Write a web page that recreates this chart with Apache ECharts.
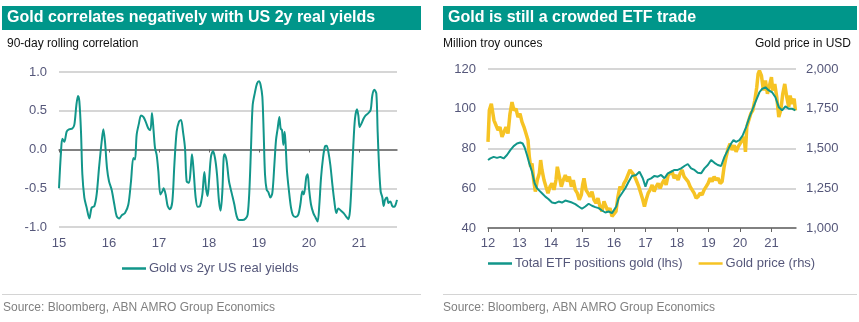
<!DOCTYPE html>
<html>
<head>
<meta charset="utf-8">
<script src="https://cdn.jsdelivr.net/npm/echarts@6/dist/echarts.min.js"></script>
<style>
  html, body { margin: 0; padding: 0; background: #fff; }
  #chart { width: 859px; height: 322px; }
</style>
</head>
<body>
<div id="chart"></div>
<script>
// Left panel: 90-day rolling correlation, gold vs 2yr US real yields (x = year, 15 = 2015)
const corrYears = [
  15.000, 15.040, 15.067, 15.107, 15.153, 15.200, 15.267, 15.307, 15.347, 15.380,
  15.407, 15.440, 15.467, 15.507, 15.553, 15.607, 15.653, 15.707, 15.753, 15.800,
  15.853, 15.887, 15.920, 15.960, 16.000, 16.053, 16.107, 16.153, 16.207, 16.253,
  16.320, 16.387, 16.440, 16.487, 16.520, 16.553, 16.600, 16.640, 16.687, 16.733,
  16.787, 16.827, 16.860, 16.893, 16.920, 16.953, 16.987, 17.027, 17.067, 17.093,
  17.133, 17.173, 17.220, 17.267, 17.307, 17.353, 17.400, 17.440, 17.480, 17.520,
  17.553, 17.600, 17.640, 17.660, 17.693, 17.733, 17.773, 17.820, 17.867, 17.907,
  17.940, 17.973, 18.000, 18.040, 18.080, 18.120, 18.160, 18.200, 18.233, 18.267,
  18.293, 18.313, 18.353, 18.400, 18.453, 18.507, 18.553, 18.600, 18.667, 18.733,
  18.773, 18.807, 18.840, 18.873, 18.920, 18.960, 19.000, 19.033, 19.067, 19.093,
  19.120, 19.153, 19.187, 19.227, 19.267, 19.307, 19.340, 19.373, 19.407, 19.433,
  19.460, 19.487, 19.513, 19.533, 19.560, 19.600, 19.640, 19.680, 19.733, 19.787,
  19.827, 19.867, 19.893, 19.920, 19.947, 19.973, 20.000, 20.040, 20.087, 20.133,
  20.173, 20.207, 20.240, 20.280, 20.320, 20.353, 20.387, 20.427, 20.467, 20.507,
  20.547, 20.587, 20.640, 20.693, 20.747, 20.787, 20.820, 20.853, 20.887, 20.920,
  20.960, 20.987, 21.013, 21.053, 21.093, 21.133, 21.187, 21.233, 21.267, 21.307,
  21.347, 21.373, 21.400, 21.433, 21.467, 21.493, 21.520, 21.560, 21.587, 21.627,
  21.667, 21.707, 21.733, 21.760
];
const corrValues = [
  -0.50, -0.03, 0.14, 0.10, 0.23, 0.26, 0.27, 0.32, 0.57, 0.69,
  0.62, 0.23, -0.32, -0.62, -0.75, -0.89, -0.75, -0.73, -0.58, -0.24,
  0.10, 0.26, 0.10, -0.24, -0.41, -0.52, -0.71, -0.86, -0.89, -0.85,
  -0.82, -0.71, -0.41, -0.11, -0.13, 0.19, 0.34, 0.44, 0.42, 0.36,
  0.27, 0.25, 0.47, 0.23, 0.02, -0.07, -0.28, -0.58, -0.54, -0.50,
  -0.58, -0.73, -0.77, -0.67, -0.20, 0.23, 0.36, 0.38, 0.23, 0.02,
  -0.41, -0.43, -0.20, -0.06, -0.28, -0.62, -0.74, -0.73, -0.58, -0.29,
  -0.50, -0.60, -0.41, -0.09, -0.02, -0.11, -0.32, -0.67, -0.79, -0.54,
  -0.11, -0.06, -0.15, -0.41, -0.56, -0.71, -0.86, -0.91, -0.91, -0.89,
  -0.84, -0.54, 0.02, 0.57, 0.74, 0.85, 0.88, 0.83, 0.68, 0.23,
  -0.32, -0.52, -0.55, -0.62, -0.56, -0.20, 0.12, 0.27, 0.42, 0.27,
  0.25, 0.06, 0.23, 0.06, -0.28, -0.54, -0.75, -0.85, -0.87, -0.84,
  -0.71, -0.54, -0.58, -0.50, -0.35, -0.32, -0.50, -0.71, -0.82, -0.88,
  -0.93, -0.71, -0.37, -0.11, 0.04, 0.05, -0.03, -0.20, -0.45, -0.67,
  -0.82, -0.76, -0.79, -0.82, -0.87, -0.90, -0.79, -0.41, 0.06, 0.40,
  0.52, 0.44, 0.29, 0.34, 0.40, 0.44, 0.47, 0.51, 0.70, 0.77,
  0.72, 0.23, -0.20, -0.54, -0.62, -0.73, -0.65, -0.62, -0.69, -0.67,
  -0.73, -0.74, -0.71, -0.65
];

// Right panel: total gold ETF holdings (million troy ounces, x = year, 12 = 2012)
const etfYears = [
  12.000, 12.074, 12.180, 12.286, 12.392, 12.497, 12.603, 12.709, 12.815, 12.921,
  13.026, 13.101, 13.164, 13.238, 13.312, 13.397, 13.481, 13.556, 13.630, 13.714,
  13.820, 13.926, 14.032, 14.138, 14.243, 14.349, 14.455, 14.561, 14.667, 14.772,
  14.878, 14.984, 15.090, 15.196, 15.302, 15.407, 15.513, 15.619, 15.725, 15.831,
  15.937, 16.000, 16.074, 16.148, 16.254, 16.360, 16.466, 16.571, 16.704, 16.810,
  16.862, 16.915, 17.000, 17.074, 17.180, 17.286, 17.392, 17.497, 17.603, 17.709,
  17.815, 17.921, 18.026, 18.132, 18.238, 18.344, 18.450, 18.556, 18.661, 18.767,
  18.873, 18.979, 19.085, 19.190, 19.296, 19.402, 19.508, 19.614, 19.720, 19.794,
  19.878, 19.984, 20.090, 20.196, 20.302, 20.407, 20.513, 20.619, 20.704, 20.810,
  20.915, 21.021, 21.127, 21.233, 21.339, 21.444, 21.550, 21.656, 21.762
];
const etfValues = [
  74.2, 75.0, 75.8, 75.3, 75.8, 75.0, 76.7, 79.2, 81.2, 82.5,
  83.0, 82.5, 80.5, 76.7, 72.5, 68.3, 62.5, 60.0, 58.8, 57.5,
  55.8, 54.5, 52.8, 52.5, 53.3, 52.8, 53.8, 53.3, 52.8, 52.0,
  50.8, 49.7, 50.8, 52.2, 51.2, 50.5, 50.0, 48.8, 47.8, 48.3,
  47.5, 48.3, 50.8, 55.0, 57.5, 60.0, 63.3, 66.2, 66.7, 68.3,
  69.2, 65.0, 60.8, 64.2, 65.0, 66.2, 65.8, 66.7, 65.0, 67.5,
  68.3, 69.2, 69.2, 70.0, 71.2, 72.2, 70.0, 69.2, 67.8, 67.5,
  70.0, 71.7, 74.2, 72.8, 71.7, 71.2, 75.8, 79.2, 82.5, 84.2,
  83.3, 84.2, 86.7, 90.8, 95.8, 100.0, 104.2, 108.3, 110.0, 110.8,
  109.2, 108.3, 105.8, 100.8, 99.2, 101.2, 100.0, 100.0, 99.2
];

// Right panel: gold price in USD (right-hand axis)
const goldYears = [
  12.000, 12.042, 12.106, 12.148, 12.190, 12.254, 12.317, 12.381, 12.444, 12.508,
  12.571, 12.635, 12.698, 12.762, 12.825, 12.889, 12.952, 13.016, 13.079, 13.143,
  13.206, 13.270, 13.312, 13.354, 13.397, 13.450, 13.503, 13.566, 13.630, 13.672,
  13.714, 13.778, 13.841, 13.905, 13.968, 14.032, 14.095, 14.159, 14.201, 14.265,
  14.328, 14.392, 14.455, 14.519, 14.582, 14.646, 14.709, 14.772, 14.836, 14.899,
  14.963, 15.005, 15.048, 15.111, 15.175, 15.238, 15.302, 15.365, 15.429, 15.492,
  15.556, 15.619, 15.683, 15.746, 15.810, 15.873, 15.937, 16.000, 16.063, 16.127,
  16.190, 16.254, 16.317, 16.381, 16.444, 16.508, 16.571, 16.635, 16.704, 16.788,
  16.852, 16.915, 16.968, 17.021, 17.085, 17.148, 17.212, 17.275, 17.339, 17.402,
  17.466, 17.529, 17.593, 17.656, 17.720, 17.783, 17.847, 17.910, 17.974, 18.037,
  18.101, 18.164, 18.228, 18.291, 18.354, 18.418, 18.481, 18.545, 18.608, 18.672,
  18.735, 18.799, 18.862, 18.926, 18.989, 19.053, 19.116, 19.180, 19.243, 19.307,
  19.370, 19.434, 19.497, 19.561, 19.624, 19.688, 19.751, 19.815, 19.878, 19.942,
  20.005, 20.069, 20.132, 20.175, 20.217, 20.280, 20.344, 20.407, 20.471, 20.534,
  20.577, 20.619, 20.683, 20.746, 20.810, 20.873, 20.937, 21.000, 21.042, 21.106,
  21.169, 21.233, 21.296, 21.360, 21.423, 21.487, 21.550, 21.593, 21.656, 21.720,
  21.762
];
const goldPrices = [
  1542, 1740, 1781, 1792, 1677, 1646, 1615, 1635, 1573, 1604,
  1635, 1594, 1719, 1792, 1740, 1750, 1698, 1719, 1667, 1635,
  1594, 1552, 1448, 1385, 1406, 1302, 1229, 1302, 1344, 1427,
  1365, 1302, 1260, 1219, 1260, 1281, 1240, 1302, 1385, 1323,
  1260, 1302, 1333, 1292, 1323, 1260, 1302, 1240, 1219, 1177,
  1208, 1271, 1313, 1240, 1219, 1198, 1229, 1177, 1156, 1188,
  1135, 1104, 1167, 1135, 1104, 1125, 1073, 1063, 1104, 1198,
  1260, 1240, 1281, 1302, 1292, 1365, 1354, 1333, 1302, 1260,
  1219, 1177, 1135, 1177, 1219, 1240, 1271, 1229, 1260, 1281,
  1250, 1281, 1302, 1271, 1333, 1323, 1354, 1313, 1333, 1302,
  1344, 1365, 1323, 1333, 1292, 1260, 1240, 1219, 1188, 1198,
  1219, 1208, 1240, 1260, 1281, 1313, 1292, 1323, 1302, 1313,
  1281, 1292, 1385, 1448, 1500, 1531, 1490, 1521, 1479, 1510,
  1531, 1552, 1573, 1479, 1635, 1677, 1719, 1740, 1802, 1885,
  1969, 1990, 1958, 1865, 1927, 1844, 1896, 1948, 1865, 1906,
  1823, 1698, 1740, 1844, 1906, 1823, 1760, 1833, 1781, 1813,
  1740
];

const corrYearTicks = [15, 16, 17, 18, 19, 20, 21];
const etfYearTicks = [12, 13, 14, 15, 16, 17, 18, 19, 20, 21];

const TEAL = '#12968a';
const GOLD = '#f6c324';
const BAND = '#00968a';
const GRID = '#c9c9c9';
const AXIS = '#666666';
const LABEL = '#55577a';
const FONT = 'Liberation Sans, Arial, sans-serif';

const pairs = (xs, ys) => xs.map((x, i) => [x, ys[i]]);
const thousands = v => String(v).replace(/\B(?=(\d{3})+(?!\d))/g, ',');

const chart = echarts.init(document.getElementById('chart'), null, { renderer: 'canvas' });

chart.setOption({
  animation: false,
  textStyle: { fontFamily: FONT },
  graphic: [
    { type: 'rect', shape: { x: 2, y: 6, width: 419, height: 24 }, style: { fill: BAND } },
    { type: 'rect', shape: { x: 443, y: 6, width: 414, height: 24 }, style: { fill: BAND } },
    { type: 'text', x: 7, y: 18, style: { text: 'Gold correlates negatively with US 2y real yields', fill: '#fff', font: 'bold 16px ' + FONT, textVerticalAlign: 'middle' } },
    { type: 'text', x: 448, y: 18, style: { text: 'Gold is still a crowded ETF trade', fill: '#fff', font: 'bold 16px ' + FONT, textVerticalAlign: 'middle' } },
    { type: 'text', x: 7, y: 44, style: { text: '90-day rolling correlation', fill: '#111', font: '12px ' + FONT, textVerticalAlign: 'middle' } },
    { type: 'text', x: 443, y: 44, style: { text: 'Million troy ounces', fill: '#111', font: '12px ' + FONT, textVerticalAlign: 'middle' } },
    { type: 'text', x: 851, y: 44, style: { text: 'Gold price in USD', fill: '#111', font: '12px ' + FONT, textAlign: 'right', textVerticalAlign: 'middle' } },
    { type: 'line', shape: { x1: 2, y1: 294.5, x2: 421, y2: 294.5 }, style: { stroke: '#d4d4d4', lineWidth: 1 } },
    { type: 'line', shape: { x1: 443, y1: 294.5, x2: 857, y2: 294.5 }, style: { stroke: '#d4d4d4', lineWidth: 1 } },
    { type: 'text', x: 3, y: 308, style: { text: 'Source: Bloomberg, ABN AMRO Group Economics', fill: '#808080', font: '12px ' + FONT, textVerticalAlign: 'middle' } },
    { type: 'text', x: 443, y: 308, style: { text: 'Source: Bloomberg, ABN AMRO Group Economics', fill: '#808080', font: '12px ' + FONT, textVerticalAlign: 'middle' } }
  ],
  legend: [
    {
      left: 122, top: 262, icon: 'rect', itemWidth: 24, itemHeight: 2.5, padding: 0,
      data: ['Gold vs 2yr US real yields'],
      textStyle: { fontSize: 13, color: LABEL, fontFamily: FONT, padding: [0, 0, 0, -2] }
    },
    {
      left: 488, top: 257, icon: 'rect', itemWidth: 24, itemHeight: 2.5, padding: 0, itemGap: 16,
      data: ['Total ETF positions gold (lhs)', 'Gold price (rhs)'],
      textStyle: { fontSize: 13, color: LABEL, fontFamily: FONT, padding: [0, 0, 0, -2] }
    }
  ],
  grid: [
    { left: 59, top: 72, width: 338, height: 155 },
    { left: 488, top: 69, width: 308, height: 159 }
  ],
  xAxis: [
    {
      gridIndex: 0, type: 'value', min: 15, max: 21.76, interval: 1,
      axisLine: { show: false }, axisTick: { show: false }, splitLine: { show: false },
      axisLabel: { customValues: corrYearTicks, margin: 10, fontSize: 13, color: LABEL, fontFamily: FONT }
    },
    {
      gridIndex: 0, type: 'value', min: 15, max: 21.76, interval: 1, position: 'bottom',
      axisLine: { show: true, onZero: true, onZeroAxisIndex: 0, lineStyle: { color: AXIS, width: 1.5 } },
      axisTick: { show: true, customValues: corrYearTicks, length: 3, lineStyle: { color: AXIS } },
      axisLabel: { show: false }, splitLine: { show: false }
    },
    {
      gridIndex: 1, type: 'value', min: 12, max: 21.78, interval: 1,
      axisLine: { show: true, onZero: false, lineStyle: { color: AXIS, width: 1.5 } },
      axisTick: { show: true, customValues: etfYearTicks, length: 4, lineStyle: { color: AXIS } },
      axisLabel: { customValues: etfYearTicks, margin: 9, fontSize: 13, color: LABEL, fontFamily: FONT },
      splitLine: { show: false }
    }
  ],
  yAxis: [
    {
      gridIndex: 0, type: 'value', min: -1, max: 1, interval: 0.5,
      axisLine: { show: false }, axisTick: { show: false },
      axisLabel: { margin: 12, fontSize: 13, color: LABEL, fontFamily: FONT, formatter: v => v.toFixed(1) },
      splitLine: { lineStyle: { color: GRID, width: 1.5 } }
    },
    {
      gridIndex: 1, type: 'value', min: 40, max: 120, interval: 20,
      axisLine: { show: false }, axisTick: { show: false },
      axisLabel: { margin: 12, fontSize: 13, color: LABEL, fontFamily: FONT },
      splitLine: { lineStyle: { color: GRID, width: 1.5 } }
    },
    {
      gridIndex: 1, type: 'value', min: 1000, max: 2000, interval: 250, position: 'right',
      axisLine: { show: false }, axisTick: { show: false },
      axisLabel: { margin: 10, fontSize: 13, color: LABEL, fontFamily: FONT, formatter: thousands },
      splitLine: { show: false }
    }
  ],
  series: [
    {
      name: 'Gold vs 2yr US real yields', type: 'line', xAxisIndex: 0, yAxisIndex: 0,
      data: pairs(corrYears, corrValues), symbol: 'none', smooth: 0.3,
      lineStyle: { color: TEAL, width: 2 }, itemStyle: { color: TEAL }, z: 3
    },
    {
      name: 'Gold price (rhs)', type: 'line', xAxisIndex: 2, yAxisIndex: 2,
      data: pairs(goldYears, goldPrices), symbol: 'none',
      lineStyle: { color: GOLD, width: 3.5 }, itemStyle: { color: GOLD }, z: 2
    },
    {
      name: 'Total ETF positions gold (lhs)', type: 'line', xAxisIndex: 2, yAxisIndex: 1,
      data: pairs(etfYears, etfValues), symbol: 'none',
      lineStyle: { color: TEAL, width: 2 }, itemStyle: { color: TEAL }, z: 3
    }
  ]
});
</script>
</body>
</html>
